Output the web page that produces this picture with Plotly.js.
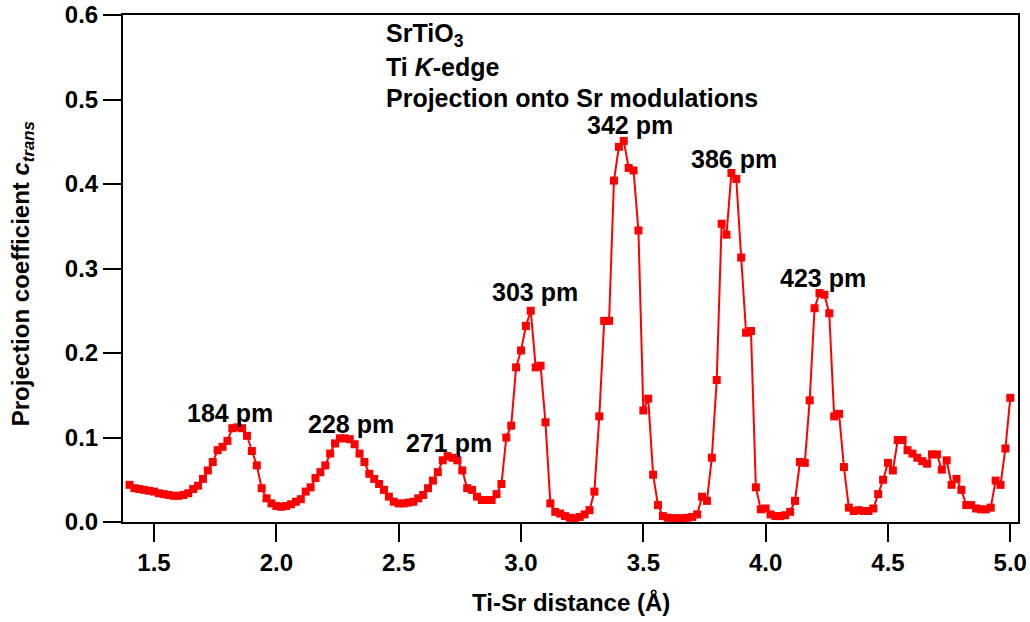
<!DOCTYPE html>
<html>
<head>
<meta charset="utf-8">
<script src="https://cdn.plot.ly/plotly-3.0.1.min.js"></script>
<style>
  html, body { margin: 0; padding: 0; background: #ffffff; }
  #chart { width: 1030px; height: 622px; }
</style>
</head>
<body>
<div id="chart"></div>
<script>
// Ti-Sr distance (Å)
const distance = [
  1.40,1.42,1.44,1.46,1.48,1.50,1.52,1.54,1.56,1.58,
  1.60,1.62,1.64,1.66,1.68,1.70,1.72,1.74,1.76,1.78,
  1.80,1.82,1.84,1.86,1.88,1.90,1.92,1.94,1.96,1.98,
  2.00,2.02,2.04,2.06,2.08,2.10,2.12,2.14,2.16,2.18,
  2.20,2.22,2.24,2.26,2.28,2.30,2.32,2.34,2.36,2.38,
  2.40,2.42,2.44,2.46,2.48,2.50,2.52,2.54,2.56,2.58,
  2.60,2.62,2.64,2.66,2.68,2.70,2.72,2.74,2.76,2.78,
  2.80,2.82,2.84,2.86,2.88,2.90,2.92,2.94,2.96,2.98,
  3.00,3.02,3.04,3.06,3.08,3.10,3.12,3.14,3.16,3.18,
  3.20,3.22,3.24,3.26,3.28,3.30,3.32,3.34,3.36,3.38,
  3.40,3.42,3.44,3.46,3.48,3.50,3.52,3.54,3.56,3.58,
  3.60,3.62,3.64,3.66,3.68,3.70,3.72,3.74,3.76,3.78,
  3.80,3.82,3.84,3.86,3.88,3.90,3.92,3.94,3.96,3.98,
  4.00,4.02,4.04,4.06,4.08,4.10,4.12,4.14,4.16,4.18,
  4.20,4.22,4.24,4.26,4.28,4.30,4.32,4.34,4.36,4.38,
  4.40,4.42,4.44,4.46,4.48,4.50,4.52,4.54,4.56,4.58,
  4.60,4.62,4.64,4.66,4.68,4.70,4.72,4.74,4.76,4.78,
  4.80,4.82,4.84,4.86,4.88,4.90,4.92,4.94,4.96,4.98,
  5.00
];

// Projection coefficient c_trans
const coefficient = [
  0.044,0.040,0.039,0.038,0.037,0.036,0.034,0.033,0.032,0.031,
  0.031,0.032,0.034,0.039,0.043,0.051,0.061,0.071,0.085,0.089,
  0.096,0.111,0.112,0.111,0.102,0.084,0.067,0.040,0.028,0.022,
  0.019,0.018,0.019,0.021,0.024,0.027,0.036,0.041,0.052,0.059,
  0.067,0.081,0.093,0.099,0.099,0.098,0.092,0.081,0.071,0.057,
  0.051,0.045,0.038,0.030,0.024,0.022,0.022,0.023,0.024,0.028,
  0.032,0.040,0.049,0.059,0.073,0.078,0.076,0.073,0.061,0.040,
  0.038,0.030,0.026,0.026,0.026,0.033,0.045,0.100,0.114,0.183,
  0.203,0.232,0.250,0.183,0.185,0.118,0.022,0.012,0.010,0.007,
  0.005,0.0045,0.006,0.009,0.014,0.036,0.125,0.238,0.238,0.404,
  0.444,0.451,0.419,0.416,0.345,0.132,0.146,0.056,0.020,0.007,
  0.005,0.0045,0.0045,0.0045,0.005,0.006,0.009,0.030,0.025,0.076,
  0.168,0.353,0.340,0.413,0.406,0.313,0.224,0.226,0.041,0.015,
  0.016,0.009,0.007,0.007,0.008,0.012,0.025,0.071,0.070,0.144,
  0.253,0.271,0.269,0.247,0.125,0.128,0.065,0.017,0.013,0.014,
  0.013,0.013,0.016,0.033,0.050,0.070,0.061,0.097,0.097,0.085,
  0.081,0.076,0.072,0.069,0.080,0.080,0.062,0.073,0.044,0.051,
  0.038,0.020,0.020,0.016,0.015,0.015,0.017,0.049,0.044,0.087,
  0.147
];

// Peak labels
const peakLabels = ['184 pm','228 pm','271 pm','303 pm','342 pm','386 pm','423 pm'];
const peakLabelX = [1.812, 2.305, 2.707, 3.056, 3.444, 3.870, 4.235];
const peakLabelY = [0.132, 0.120, 0.097, 0.276, 0.473, 0.433, 0.292];

// Info text lines
const infoLines = ['SrTiO<sub>3</sub>', 'Ti <i>K</i>-edge', 'Projection onto Sr modulations'];
const infoLineY = [0.961, 0.898, 0.836];

// Ticks
const xTickVals = [1.5, 2.0, 2.5, 3.0, 3.5, 4.0, 4.5, 5.0];
const xTickText = ['1.5','2.0','2.5','3.0','3.5','4.0','4.5','5.0'];
const yTickVals = [0.0, 0.1, 0.2, 0.3, 0.4, 0.5, 0.6];
const yTickText = ['0.0','0.1','0.2','0.3','0.4','0.5','0.6'];

const FONT = '"Liberation Sans", Arial, Helvetica, sans-serif';
const boldFont = (size) => ({ family: FONT, size: size, color: '#000000', weight: 'bold' });

const trace = {
  x: distance,
  y: coefficient,
  type: 'scatter',
  mode: 'lines+markers',
  line: { color: '#ff0000', width: 2 },
  marker: { symbol: 'square', size: 8, color: '#ff0000' },
  cliponaxis: false,
  hoverinfo: 'skip'
};

const annotations = [];
peakLabels.forEach((t, i) => {
  annotations.push({
    x: peakLabelX[i], y: peakLabelY[i], xref: 'x', yref: 'y',
    text: t, showarrow: false, xanchor: 'center', yanchor: 'middle', yshift: -3,
    font: boldFont(25)
  });
});
infoLines.forEach((t, i) => {
  annotations.push({
    x: 0.2915, y: infoLineY[i], xref: 'paper', yref: 'paper',
    text: t, showarrow: false, xanchor: 'left', yanchor: 'middle', align: 'left',
    font: boldFont(25)
  });
});
// axis titles
annotations.push({
  x: 0.5, y: -0.1595, xref: 'paper', yref: 'paper',
  text: 'Ti-Sr distance (Å)', showarrow: false, xanchor: 'center', yanchor: 'middle',
  font: boldFont(24)
});
annotations.push({
  x: -0.1121, y: 0.49, xref: 'paper', yref: 'paper',
  text: 'Projection coefficient <i>c<sub>trans</sub></i>', showarrow: false,
  xanchor: 'center', yanchor: 'middle', textangle: -90,
  font: boldFont(24)
});

const axisCommon = {
  showline: true, mirror: true, linecolor: '#000000', linewidth: 2,
  ticks: 'outside', ticklen: 18, tickwidth: 2, tickcolor: '#000000',
  showgrid: false, zeroline: false, tickfont: boldFont(24), fixedrange: true
};

const layout = {
  width: 1030, height: 622,
  margin: { l: 123, r: 12, t: 15, b: 100, pad: 0 },
  paper_bgcolor: '#ffffff', plot_bgcolor: '#ffffff',
  showlegend: false,
  xaxis: Object.assign({}, axisCommon, {
    range: [1.3732, 5.0315], tickmode: 'array', tickvals: xTickVals, ticktext: xTickText
  }),
  yaxis: Object.assign({}, axisCommon, {
    range: [0, 0.6], tickmode: 'array', tickvals: yTickVals, ticktext: yTickText
  }),
  annotations: annotations,
  font: { family: FONT }
};

Plotly.newPlot('chart', [trace], layout, { displayModeBar: false, staticPlot: true });
</script>
</body>
</html>
